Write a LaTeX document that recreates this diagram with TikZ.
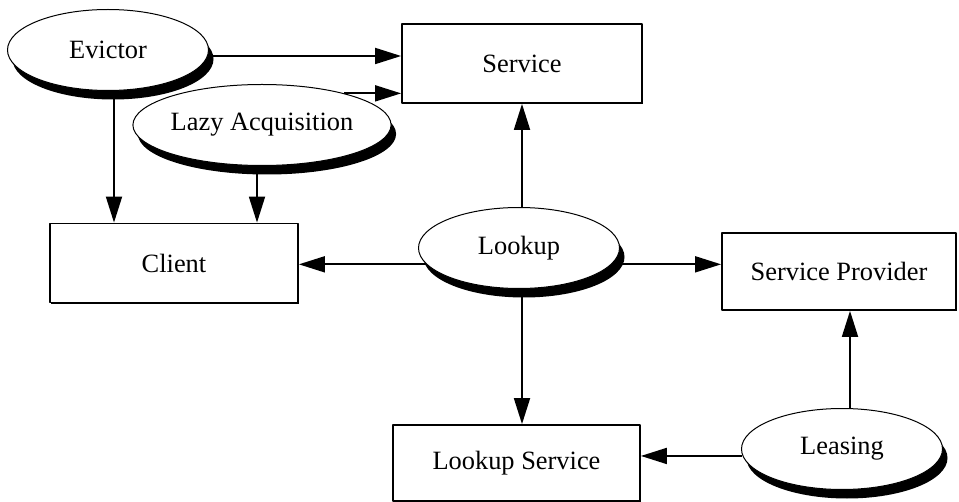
\documentclass[tikz,border=0pt]{standalone}
\usepackage{fontspec}
\setmainfont{Liberation Serif}
\usetikzlibrary{shapes.geometric,shadows,arrows.meta}
\begin{document}
\begin{tikzpicture}[x=0.5pt,y=-0.5pt,font=\fontsize{13.2}{15}\selectfont,line join=round,
	>={Triangle[length=13pt,width=8pt]},
	patt/.style={ellipse,draw,line width=0.5pt,fill=white,minimum width=100.5pt,
		minimum height=40.5pt,inner sep=0pt,
		drop shadow={shadow xshift=2.5pt,shadow yshift=-4.5pt,opacity=1,fill=black}},
	comp/.style={rectangle,draw,line width=0.9pt,fill=white,minimum height=39.5pt,
		inner sep=0pt,
		drop shadow={shadow xshift=0.6pt,shadow yshift=-0.6pt,opacity=1,fill=black}},
	link/.style={->,line width=0.9pt}]
	\useasboundingbox (0,0) rectangle (959,502);
	\path (108,50)node[patt](ev){Evictor}
	(262,125)node[patt](lz){Lazy Acquisition}
	(519,248)node[patt](lk){Lookup}
	(842,449)node[patt](le){Leasing};
	\path (522,63.5)node[comp,minimum width=120pt](sv){Service}
	(174,263)node[comp,minimum width=124pt](cl){Client}
	(839,271.5)node[comp,minimum width=117pt,minimum height=38.5pt](sp){Service Provider}
	(516.5,463)node[comp,minimum width=123.5pt,minimum height=38pt](ls){Lookup Service};
	\draw[link]([yshift=-3pt]ev.east)--([yshift=-3pt]ev.east -| sv.west);
	\draw[link](lz.21)--(lz.21 -| sv.west);
	\draw[link]([xshift=3pt]ev.south)--([xshift=3pt]ev.south |- cl.north);
	\draw[link]([xshift=-2.5pt]lz.south)--([xshift=-2.5pt]lz.south |- cl.north);
	\draw[link](lk.north -| sv.south)--(sv.south);
	\draw[link](lk.190)--(lk.190 -| cl.east);
	\draw[link](lk.350)--(lk.350 -| sp.west);
	\draw[link](lk.south -| sv.south)--(sv.south |- ls.north);
	\draw[link](le.184)--(le.184 -| ls.east);
	\draw[link]([xshift=4pt]le.north)--([xshift=4pt]le.north |- sp.south);
\end{tikzpicture}
\end{document}
